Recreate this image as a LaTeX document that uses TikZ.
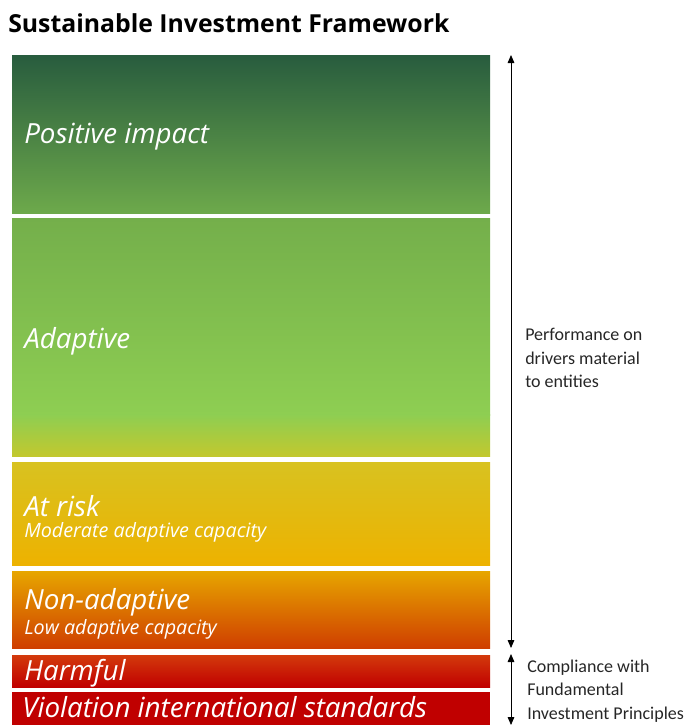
\documentclass[tikz,border=0pt]{standalone}
\usepackage{fontspec}
\setmainfont{Carlito}
\newfontfamily\tierfont{Open Sans}
\usepackage{xcolor}
\usetikzlibrary{arrows.meta}

\definecolor{posTop}{HTML}{285C3E}
\definecolor{posBot}{HTML}{6DA94B}
\definecolor{adaTop}{HTML}{74AF4B}
\definecolor{adaMid}{HTML}{8ECE52}
\definecolor{adaBot}{HTML}{C2C82E}
\definecolor{riskTop}{HTML}{D8C220}
\definecolor{riskMid}{HTML}{FDC100}
\definecolor{riskBot}{HTML}{EDB200}
\definecolor{nonTop}{HTML}{E7A600}
\definecolor{nonBot}{HTML}{CF3E00}
\definecolor{harmTop}{HTML}{D33A0C}
\definecolor{harmBot}{HTML}{C00000}
\definecolor{violRed}{HTML}{C00000}

\tikzset{
  tier/.style={anchor=west, text=white, inner sep=0pt, font=\tierfont\itshape\fontsize{20.8}{22}\selectfont},
  subtier/.style={anchor=west, text=white, inner sep=0pt, font=\tierfont\itshape\fontsize{14.8}{18}\selectfont},
  side/.style={anchor=west, align=left, inner sep=0pt, text=black!85, font=\fontsize{13.5}{17.6}\selectfont},
  span/.style={{Triangle[length=6pt,width=5pt]}-{Triangle[length=6pt,width=5pt]}, line width=0.6pt}
}

\begin{document}
\begin{tikzpicture}[line cap=round,line join=round,x=0.75pt,y=-0.75pt]
			\useasboundingbox (0,0) rectangle (698,725);
			\clip (0,0) rectangle (698,725);
			% coloured tiers
			\shade [top color=posTop, bottom color=posBot] (12,55) rectangle (490,213);
			\shade [top color=adaTop, bottom color=adaMid] (12,218) rectangle (490,415);
			\shade [top color=adaMid, bottom color=adaBot] (12,414.5) rectangle (490,456);
			\shade [top color=riskTop, middle color=riskMid, bottom color=riskBot] (12,462) rectangle (490,565);
			\shade [top color=nonTop, bottom color=nonBot] (12,571) rectangle (490,648);
			\shade [top color=harmTop, bottom color=harmBot] (12,655) rectangle (490,687);
			\fill [violRed] (12,692) rectangle (490,730);
			% texts
			\node (title) [anchor=west, inner sep=0pt, font=\tierfont\bfseries\fontsize{18.6}{22}\selectfont] at (8,23) {Sustainable Investment Framework};
			\node (positive) [tier] at (24,137) {Positive impact};
			\node (adaptive) [tier] at (24,341) {Adaptive};
			\node (atrisk) [tier] at (24,506) {At risk};
			\node (moderate) [subtier] at (24,532) {Moderate adaptive capacity};
			\node (nonadaptive) [tier] at (24,602) {Non-adaptive};
			\node (low) [subtier] at (24,629) {Low adaptive capacity};
			\node (harmful) [tier] at (24,673) {Harmful};
			\node (violation) [tier, anchor=base west] at (22,717) {Violation international standards};
			\node (performance) [side] at (525,358) {Performance on\\drivers material\\to entities};
			\node (compliance) [side] at (527,691) {Compliance with\\Fundamental\\Investment Principles};
			% span arrows
			\coordinate (perfTop) at (511,55);
			\coordinate (perfBot) at (511,648);
			\coordinate (compTop) at (511,654);
			\coordinate (compBot) at (511,725);
			\draw [span] (perfTop) -- (perfBot);
			\draw [span] (compTop) -- (compBot);
			\end{tikzpicture}
\end{document}
